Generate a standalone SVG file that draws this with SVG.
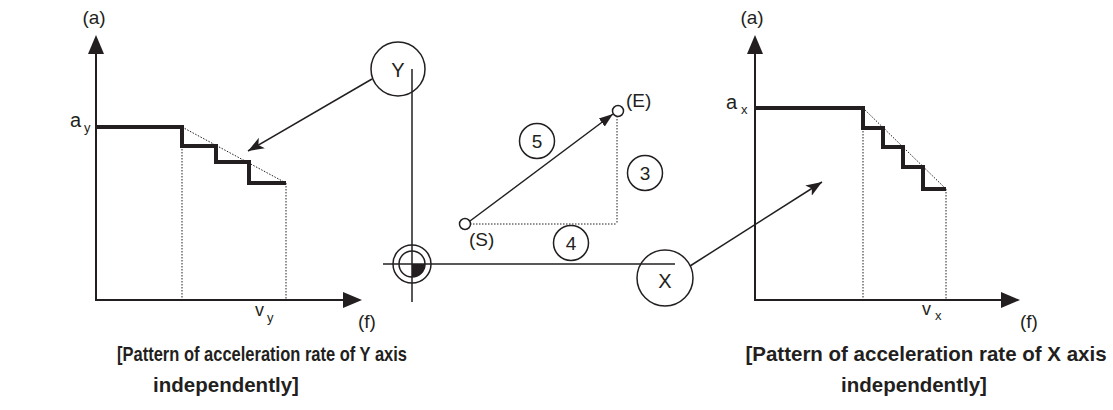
<svg xmlns="http://www.w3.org/2000/svg" width="1113" height="410" viewBox="0 0 1113 410">
<style>
  .ax{stroke:#231f20;stroke-width:2;fill:none}
  .head{fill:#231f20}
  .step{stroke:#231f20;stroke-width:4;fill:none;stroke-linejoin:miter;stroke-linecap:butt}
  .dot{stroke:#231f20;stroke-width:1;stroke-dasharray:1.5 1.5;fill:none}
  .thin{stroke:#231f20;stroke-width:1.5;fill:none}
  .circ{stroke:#231f20;stroke-width:1.5;fill:#fff}
  .t{font-family:"Liberation Sans",Arial,sans-serif;fill:#231f20}
  .lab{font-size:19px}
  .big{font-size:20px;text-anchor:middle}
  .num{font-size:19px;text-anchor:middle}
  .sub{font-size:13px}
  .cap{font-size:20.5px;font-weight:bold}
</style>
<defs>
  <marker id="arr" markerUnits="userSpaceOnUse" markerWidth="18" markerHeight="14" refX="16" refY="7" orient="auto">
    <path d="M0,1 L16,7 L0,13 L4,7 Z" fill="#231f20"/>
  </marker>
  <marker id="arrs" markerUnits="userSpaceOnUse" markerWidth="16" markerHeight="12" refX="14" refY="6" orient="auto">
    <path d="M0,1 L14,6 L0,11 Z" fill="#231f20"/>
  </marker>
</defs>

<g id="chart-y">
  <line class="ax" x1="96" y1="301" x2="96" y2="50"/>
  <line class="ax" x1="95" y1="300" x2="346" y2="300"/>
  <polygon class="head" points="96,35 88,54 104,54"/>
  <polygon class="head" points="362,300 343,292 343,308"/>
  <line class="dot" x1="182" y1="146" x2="182" y2="300"/>
  <line class="dot" x1="286" y1="183" x2="286" y2="300"/>
  <line class="dot" x1="182" y1="127" x2="286" y2="183"/>
  <polyline class="step" points="96,127 182,127 182,146 216,146 216,162 249,162 249,183 286,183"/>
  <text class="t lab" x="94" y="24" text-anchor="middle">(a)</text>
  <text class="t" x="70" y="127" font-size="20">a</text>
  <text class="t sub" x="84" y="132">y</text>
  <text class="t" x="255" y="316" font-size="18">v</text>
  <text class="t sub" x="267" y="322">y</text>
  <text class="t lab" x="358" y="328">(f)</text>
</g>

<g id="chart-x">
  <line class="ax" x1="755" y1="301" x2="755" y2="50"/>
  <line class="ax" x1="754" y1="300" x2="1004" y2="300"/>
  <polygon class="head" points="755,35 747,54 763,54"/>
  <polygon class="head" points="1020,300 1001,292 1001,308"/>
  <line class="dot" x1="863" y1="128" x2="863" y2="300"/>
  <line class="dot" x1="946" y1="189" x2="946" y2="300"/>
  <line class="dot" x1="863" y1="108" x2="946" y2="189"/>
  <polyline class="step" points="755,108 863,108 863,128 883,128 883,147 903,147 903,167 923,167 923,189 946,189"/>
  <text class="t lab" x="752" y="24" text-anchor="middle">(a)</text>
  <text class="t" x="726" y="109" font-size="20">a</text>
  <text class="t sub" x="741" y="114">x</text>
  <text class="t" x="922" y="315" font-size="18">v</text>
  <text class="t sub" x="935" y="320">x</text>
  <text class="t lab" x="1020" y="328">(f)</text>
</g>

<g id="axes">
  <line class="thin" x1="412" y1="69" x2="412" y2="302"/>
  <line class="thin" x1="383" y1="264" x2="675" y2="264"/>
</g>

<g id="node-y">
  <circle class="circ" cx="398" cy="69" r="27" style="fill:none"/>
  <text class="t big" x="398" y="77">Y</text>
</g>

<g id="node-x">
  <circle class="circ" cx="665" cy="278" r="28" style="fill:none"/>
  <text class="t big" x="665" y="288">X</text>
</g>

<g id="origin">
  <circle class="thin" cx="412" cy="264" r="19"/>
  <circle class="thin" cx="412" cy="264" r="13"/>
  <path d="M412,264 L425,264 A13,13 0 0,1 412,277 Z" fill="#231f20"/>
</g>

<g id="connectors">
  <line class="thin" x1="372" y1="79" x2="248" y2="151" marker-end="url(#arr)"/>
  <line class="thin" x1="690" y1="266" x2="822" y2="182" marker-end="url(#arr)"/>
  <line class="thin" x1="470" y1="221" x2="613" y2="114" marker-end="url(#arrs)"/>
  <line class="dot" x1="470" y1="224" x2="617" y2="224"/>
  <line class="dot" x1="617" y1="116" x2="617" y2="224"/>
</g>

<g id="point-s">
  <circle class="circ" cx="465" cy="224" r="5.5"/>
  <text class="t lab" x="469" y="246">(S)</text>
</g>

<g id="point-e">
  <circle class="circ" cx="618" cy="111" r="5.5"/>
  <text class="t lab" x="626" y="107">(E)</text>
</g>

<g id="label-5">
  <circle class="circ" cx="537" cy="141" r="17.5"/>
  <text class="t num" x="537" y="148">5</text>
</g>
<g id="label-3">
  <circle class="circ" cx="645" cy="173" r="17.5"/>
  <text class="t num" x="645" y="180">3</text>
</g>
<g id="label-4">
  <circle class="circ" cx="571" cy="243" r="17.5"/>
  <text class="t num" x="571" y="250">4</text>
</g>

<g id="caption-y">
  <text class="t cap" x="117" y="361" textLength="290" lengthAdjust="spacingAndGlyphs">[Pattern of acceleration rate of Y axis</text>
  <text class="t cap" x="226" y="392" text-anchor="middle">independently]</text>
</g>
<g id="caption-x">
  <text class="t cap" x="926" y="361" text-anchor="middle">[Pattern of acceleration rate of X axis</text>
  <text class="t cap" x="914" y="392" text-anchor="middle">independently]</text>
</g>
</svg>
